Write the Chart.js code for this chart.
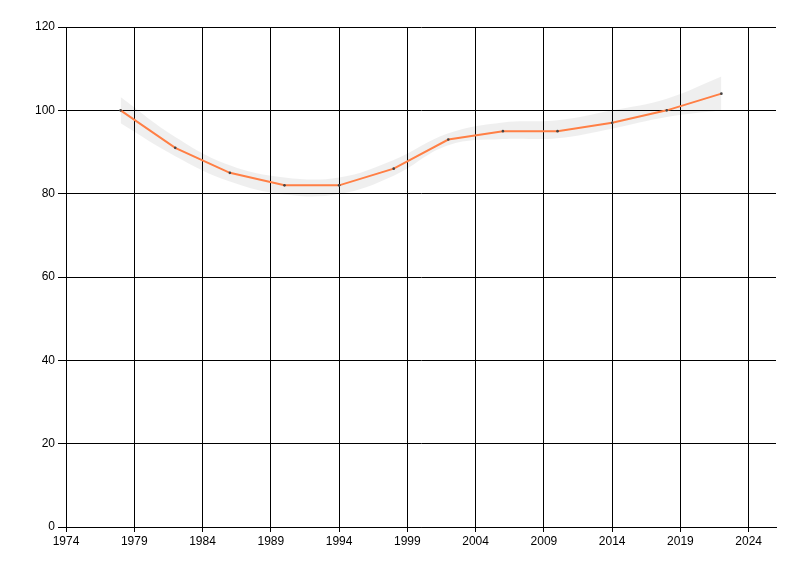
<!DOCTYPE html>
<html>
<head>
<meta charset="utf-8">
<script src="https://cdn.jsdelivr.net/npm/chart.js@4/dist/chart.umd.min.js"></script>
<style>
html,body{margin:0;padding:0;background:#fff;}
#wrap{width:800px;height:576px;position:relative;}
</style>
</head>
<body>
<div id="wrap"><canvas id="c" width="800" height="576"></canvas></div>
<script>
const years = [1978, 1982, 1986, 1990, 1994, 1998, 2002, 2006, 2010, 2014, 2018, 2022];
const values = [100, 91, 85, 82, 82, 86, 93, 95, 95, 97, 100, 104];
const upperBand = [103.2, 93.6, 86.8, 83.9, 83.9, 88.1, 94.5, 97.1, 97.6, 100.0, 102.8, 108.1];
const lowerBand = [96.9, 89.0, 82.9, 79.8, 79.9, 84.3, 91.6, 93.1, 93.3, 95.6, 98.4, 100.0];
const xTicks = [1974, 1979, 1984, 1989, 1994, 1999, 2004, 2009, 2014, 2019, 2024];
const yTicks = [0, 20, 40, 60, 80, 100, 120];

const toXY = (xs, ys) => xs.map((x, i) => ({x: x, y: ys[i]}));

new Chart(document.getElementById('c'), {
  type: 'line',
  data: {
    datasets: [
      {
        data: toXY(years, values),
        borderColor: '#FF7F45',
        borderWidth: 2,
        pointRadius: 1.3,
        pointBackgroundColor: '#444',
        pointBorderWidth: 0,
        tension: 0,
        fill: false
      },
      {
        data: toXY(years, lowerBand),
        borderWidth: 0,
        borderColor: 'rgba(0,0,0,0)',
        pointRadius: 0,
        tension: 0.4,
        fill: false
      },
      {
        data: toXY(years, upperBand),
        borderWidth: 0,
        borderColor: 'rgba(0,0,0,0)',
        backgroundColor: 'rgba(0,0,0,0.063)',
        pointRadius: 0,
        tension: 0.4,
        fill: '-1'
      }
    ]
  },
  options: {
    responsive: false,
    animation: false,
    events: [],
    layout: { padding: { left: 0, top: 27, right: 24, bottom: 0 } },
    plugins: { legend: { display: false }, tooltip: { enabled: false } },
    scales: {
      x: {
        type: 'linear',
        min: 1974,
        max: 2026,
        afterBuildTicks: (axis) => { axis.ticks = xTicks.map(v => ({value: v})); },
        afterFit: (axis) => { axis.height = 49; },
        grid: { color: '#000', lineWidth: 1, tickLength: 5, drawOnChartArea: true },
        border: { color: '#000', width: 1 },
        ticks: { color: '#000', font: { family: 'Liberation Sans', size: 12 }, padding: 2, maxRotation: 0, autoSkip: false,
                 callback: (v) => String(v) }
      },
      y: {
        type: 'linear',
        min: 0,
        max: 120,
        afterBuildTicks: (axis) => { axis.ticks = yTicks.map(v => ({value: v})); },
        afterFit: (axis) => { axis.width = 66; },
        grid: { color: '#000', lineWidth: 1, tickLength: 8 },
        border: { color: '#000', width: 1 },
        ticks: { color: '#000', font: { family: 'Liberation Sans', size: 12 }, padding: 3,
                 callback: (v) => String(v) }
      }
    }
  }
});
</script>
</body>
</html>
